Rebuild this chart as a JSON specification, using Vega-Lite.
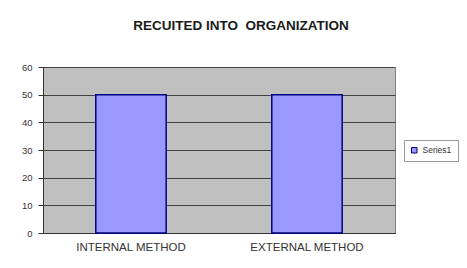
{
  "$schema": "https://vega.github.io/schema/vega-lite/v6.json",
  "width": 352,
  "height": 166,
  "autosize": {"type": "none"},
  "padding": {"left": 43, "top": 67, "right": 72, "bottom": 35},
  "background": "white",
  "data": {"values": [
    {"method": "INTERNAL METHOD", "value": 50, "series": "Series1"},
    {"method": "EXTERNAL METHOD", "value": 50, "series": "Series1"}
  ]},
  "title": {
    "text": "RECUITED INTO \u00a0ORGANIZATION",
    "font": "Liberation Sans",
    "fontSize": 13.5,
    "fontWeight": "bold",
    "color": "#1a1a1a",
    "anchor": "middle",
    "dx": 22,
    "offset": 30
  },
  "mark": {"type": "bar", "stroke": "#000080", "strokeWidth": 1.5},
  "encoding": {
    "x": {
      "field": "method", "type": "nominal", "sort": null,
      "scale": {"paddingInner": 0.6, "paddingOuter": 0.3},
      "axis": {"title": null, "labelAngle": 0, "ticks": false, "labelFont": "Liberation Sans", "labelFontSize": 11.5, "labelColor": "#333333", "labelPadding": 8, "domainColor": "#333333"}
    },
    "y": {
      "field": "value", "type": "quantitative",
      "scale": {"domain": [0, 60]},
      "axis": {"title": null, "values": [0, 10, 20, 30, 40, 50, 60], "labelFont": "Liberation Sans", "labelFontSize": 9.5, "labelColor": "#333333", "tickColor": "#333333", "tickSize": 5, "labelPadding": 6, "domainColor": "#333333", "gridColor": "#444444", "gridOpacity": 1}
    },
    "color": {
      "field": "series", "type": "nominal",
      "scale": {"range": ["#9999ff"]},
      "legend": {
        "title": null, "orient": "none", "legendX": 361, "legendY": 73,
        "symbolType": "square", "symbolSize": 30, "symbolStrokeColor": "#000080", "symbolStrokeWidth": 1,
        "labelFont": "Liberation Sans", "labelFontSize": 8.5, "labelColor": "#333333",
        "strokeColor": "#999999", "padding": 6, "fillColor": "white"
      }
    }
  },
  "config": {
    "view": {"fill": "#c0c0c0", "stroke": "#808080", "strokeWidth": 1}
  }
}
